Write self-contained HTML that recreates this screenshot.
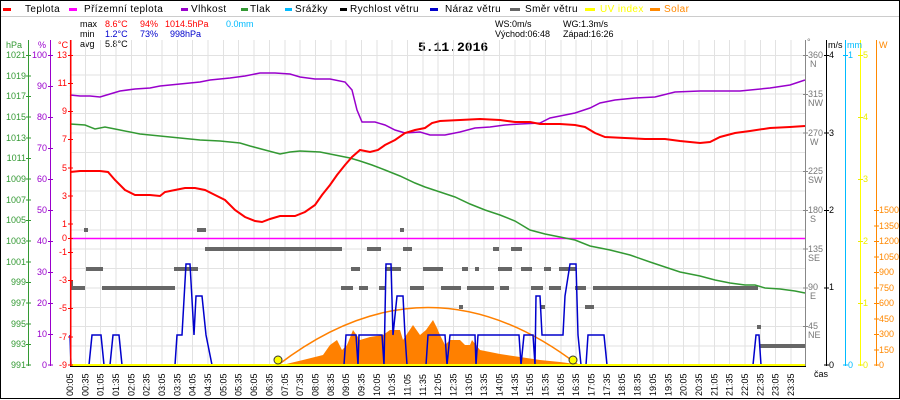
<!DOCTYPE html>
<html><head><meta charset="utf-8"><style>
html,body{margin:0;padding:0;background:#fff}
svg{display:block}
text{font-family:"Liberation Sans",sans-serif}
.m{font-family:"Liberation Mono",monospace}
</style></head><body>
<svg width="900" height="400" viewBox="0 0 900 400" xmlns="http://www.w3.org/2000/svg">
<rect x="0.5" y="0.5" width="899" height="398" fill="#fff" stroke="#000"/>
<line x1="1" y1="16.5" x2="899" y2="16.5" stroke="#ccc"/>
<!-- legend -->
<g font-size="10" letter-spacing="0.4">
<rect x="3" y="8" width="8" height="3" fill="#f00"/><text x="25" y="12">Teplota</text>
<rect x="69" y="8" width="8" height="3" fill="#f0f"/><text x="84" y="12">Přízemní teplota</text>
<rect x="181" y="8" width="7" height="3" fill="#90c"/><text x="191" y="12">Vlhkost</text>
<rect x="241" y="8" width="7" height="3" fill="#393"/><text x="250" y="12">Tlak</text>
<rect x="285" y="8" width="7" height="3" fill="#0bf"/><text x="295" y="12">Srážky</text>
<rect x="340" y="8" width="7" height="3" fill="#000"/><text x="350" y="12">Rychlost větru</text>
<rect x="430" y="8" width="8" height="3" fill="#00c"/><text x="445" y="12">Náraz větru</text>
<rect x="510" y="8" width="10" height="3" fill="#666"/><text x="525" y="12">Směr větru</text>
<rect x="585" y="8" width="10" height="3" fill="#ff0"/><text x="600" y="12" fill="#ff0">UV index</text>
<rect x="650" y="8" width="10" height="3" fill="#f80"/><text x="664" y="12" fill="#f80">Solar</text>
</g>
<!-- stats -->
<g class="m" font-size="9">
<text x="80" y="27">max</text><text x="105" y="27" fill="#f00">8.6°C</text><text x="140" y="27" fill="#f00">94%</text><text x="165" y="27" fill="#f00">1014.5hPa</text><text x="226" y="27" fill="#0bf">0.0mm</text>
<text x="80" y="37">min</text><text x="105" y="37" fill="#00c">1.2°C</text><text x="140" y="37" fill="#00c">73%</text><text x="170" y="37" fill="#00c">998hPa</text>
<text x="80" y="47">avg</text><text x="105" y="47">5.8°C</text>
<text x="495" y="27">WS:0m/s</text><text x="563" y="27">WG:1.3m/s</text>
<text x="495" y="37">Východ:06:48</text><text x="563" y="37">Západ:16:26</text>
</g>
<text x="418" y="51" font-size="13" font-weight="bold" class="m">5.11.2016</text>
<!-- grid -->
<g stroke="#e2e2e2" stroke-width="1" shape-rendering="crispEdges">
<path d="M70 40V365M85.3 40V365M100.7 40V365M116 40V365M131.4 40V365M146.7 40V365M162 40V365M177.4 40V365M192.7 40V365M208.1 40V365M223.4 40V365M238.7 40V365M254.1 40V365M269.4 40V365M284.8 40V365M300.1 40V365M315.4 40V365M330.8 40V365M346.1 40V365M361.5 40V365M376.8 40V365M392.1 40V365M407.5 40V365M422.8 40V365M438.2 40V365M453.5 40V365M468.8 40V365M484.2 40V365M499.5 40V365M514.9 40V365M530.2 40V365M545.5 40V365M560.9 40V365M576.2 40V365M591.6 40V365M606.9 40V365M622.2 40V365M637.6 40V365M652.9 40V365M668.3 40V365M683.6 40V365M698.9 40V365M714.3 40V365M729.6 40V365M745 40V365M760.3 40V365M775.6 40V365M791 40V365"/>
<path d="M70 55.5H806M70 74.9H806M70 94.2H806M70 113.6H806M70 133H806M70 152.3H806M70 171.7H806M70 191.1H806M70 210.5H806M70 229.8H806M70 249.2H806M70 268.6H806M70 288H806M70 307.4H806M70 326.7H806M70 346.1H806"/>
</g>
<!-- zero temp line -->
<line x1="70" y1="238.5" x2="806" y2="238.5" stroke="#f0f" stroke-width="1.5"/>
<!-- solar area -->
<polygon fill="#ff8000" points="282,365 303,360 323,355 330,345 337,340 342,350 347,345 353,330 360,340 370,337 383,335 390,330 400,330 403,340 413,325 420,335 426,330 433,320 437,328 440,335 445,345 450,340 460,340 465,345 470,345 472,340 476,345 480,350 490,352 500,354 520,357 540,360 560,362 575,364 580,365"/>
<!-- sun curve -->
<path fill="none" stroke="#ff8000" stroke-width="1.5" d="M278 365 Q428 250 578 365"/>
<!-- direction -->
<g fill="#666">
<rect x="84" y="228" width="4" height="4"/><rect x="197" y="228" width="9" height="4"/><rect x="400" y="228" width="4" height="4"/>
<rect x="205" y="247" width="137" height="4"/><rect x="367" y="247" width="14" height="4"/><rect x="403" y="247" width="9" height="4"/><rect x="493" y="247" width="6" height="4"/><rect x="511" y="247" width="11" height="4"/>
<rect x="86" y="267" width="17" height="4"/><rect x="174" y="267" width="24" height="4"/><rect x="351" y="267" width="9" height="4"/><rect x="385" y="267" width="16" height="4"/><rect x="423" y="267" width="20" height="4"/><rect x="462" y="267" width="6" height="4"/><rect x="475" y="267" width="4" height="4"/><rect x="498" y="267" width="14" height="4"/><rect x="521" y="267" width="11" height="4"/><rect x="544" y="267" width="7" height="4"/><rect x="559" y="267" width="17" height="4"/>
<rect x="70" y="286" width="15" height="4"/><rect x="102" y="286" width="73" height="4"/><rect x="341" y="286" width="12" height="4"/><rect x="359" y="286" width="9" height="4"/><rect x="379" y="286" width="6" height="4"/><rect x="410" y="286" width="14" height="4"/><rect x="441" y="286" width="20" height="4"/><rect x="467" y="286" width="27" height="4"/><rect x="500" y="286" width="9" height="4"/><rect x="531" y="286" width="12" height="4"/><rect x="549" y="286" width="12" height="4"/><rect x="575" y="286" width="11" height="4"/><rect x="593" y="286" width="165" height="4"/>
<rect x="70" y="280" width="3" height="6"/>
<rect x="459" y="305" width="4" height="4"/><rect x="541" y="305" width="4" height="4"/><rect x="585" y="305" width="9" height="4"/>
<rect x="757" y="325" width="4" height="4"/><rect x="760" y="344" width="46" height="4"/>
</g>
<!-- gust -->
<polyline fill="none" stroke="#00c" stroke-width="1.5" points="70,335 71,365 89,365 92,335 101,335 104,365 110,365 113,335 119,335 122,365 175,365 177,335 182,335 186,264 190,264 194,335 196,296 202,296 206,335 212,365 344,365 346,335 356,335 358,365 359,335 382,335 384,365 386,264 391,264 393,335 397,296 403,296 405,335 407,365 426,365 428,335 445,335 447,365 450,335 475,335 476,365 478,335 519,335 521,365 524,335 533,335 535,365 536,296 540,296 542,335 563,335 565,296 570,264 576,264 578,335 581,365 586,365 588,335 604,335 607,365 753,365 756,335 759,335 761,365 806,365"/>
<!-- pressure -->
<polyline fill="none" stroke="#393" stroke-width="1.5" points="70,124 85,125 95,129 105,127 120,130 140,134 160,136 180,138 200,140 220,141 240,143 250,146 265,150 280,154 290,152 300,151 320,152 335,155 350,158 360,161 372,165 385,170 400,176 415,183 425,187 440,192 455,197 470,204 485,210 500,215 515,221 530,230 545,234 560,237 575,240 590,246 610,250 630,255 650,262 665,267 680,272 700,276 715,280 730,283 745,285 755,285 765,288 780,289 795,291 805,293"/>
<!-- humidity -->
<polyline fill="none" stroke="#90c" stroke-width="1.5" points="70,95 80,96 90,96 100,97 110,94 120,91 135,89 150,88 160,86 170,85 180,84 190,83 200,82 210,80 220,79 230,78 245,76 260,73 275,73 290,74 300,77 315,79 330,79 345,82 352,90 357,110 362,122 375,122 385,125 395,130 405,133 420,132 430,135 445,135 460,132 475,128 490,127 505,125 520,124 540,123 550,118 560,116 575,113 590,108 600,103 615,100 635,98 655,97 675,92 700,91 740,91 770,88 790,85 805,80"/>
<!-- temperature -->
<polyline fill="none" stroke="#f00" stroke-width="2" points="70,172 80,171 100,171 108,172 115,180 125,190 135,195 150,195 160,196 165,192 175,190 185,188 195,188 205,190 215,195 225,200 235,210 245,217 255,221 262,222 270,219 280,216 295,216 305,212 315,205 322,195 330,185 337,175 345,165 352,157 360,150 370,152 378,150 385,145 395,140 405,133 415,130 425,128 432,123 440,121 460,120 480,119 500,120 515,122 530,122 540,124 560,124 575,125 585,127 595,133 605,137 625,138 645,139 665,139 680,141 700,143 710,142 720,137 735,133 750,131 770,128 790,127 805,126"/>
<!-- baseline -->
<line x1="70" y1="366.5" x2="806" y2="366.5" stroke="#000"/>
<line x1="70" y1="365" x2="806" y2="365" stroke="#ff0" stroke-width="2"/>
<circle cx="278" cy="360" r="4" fill="#ff0" stroke="#333"/>
<circle cx="573" cy="360" r="4" fill="#ff0" stroke="#333"/>
<!-- axes -->
<g shape-rendering="crispEdges">
<line x1="28.5" y1="40" x2="28.5" y2="366" stroke="#393"/>
<line x1="50.5" y1="40" x2="50.5" y2="366" stroke="#90c"/>
<line x1="70.5" y1="40" x2="70.5" y2="366" stroke="#f00" stroke-width="1.5"/>
<line x1="805.5" y1="40" x2="805.5" y2="366" stroke="#888"/>
<line x1="826.5" y1="40" x2="826.5" y2="366" stroke="#000"/>
<line x1="845.5" y1="40" x2="845.5" y2="366" stroke="#0bf"/>
<line x1="860.5" y1="40" x2="860.5" y2="366" stroke="#ff0"/>
<line x1="876.5" y1="40" x2="876.5" y2="366" stroke="#f80"/>
<path stroke="#393" d="M26 55.5h5M26 76h5M26 96.5h5M26 117h5M26 138h5M26 158.5h5M26 179h5M26 200h5M26 220.5h5M26 241h5M26 262h5M26 282.5h5M26 303h5M26 324h5M26 344.5h5M26 365h5"/>
<path stroke="#90c" d="M48 55.5h5M48 86.5h5M48 117.5h5M48 148.5h5M48 179.5h5M48 210.5h5M48 241.5h5M48 272.5h5M48 303.5h5M48 334.5h5M48 365h5"/>
<path stroke="#f00" d="M68 55.5h5M68 83.5h5M68 111.5h5M68 139.5h5M68 168h5M68 196h5M68 224h5M68 238.5h5M68 252.5h5M68 280.5h5M68 308.5h5M68 337h5M68 365h5"/>
<path stroke="#888" d="M803 55.5h5M803 94.5h5M803 133h5M803 171.5h5M803 210.5h5M803 249h5M803 288h5M803 326.5h5"/>
<path stroke="#000" d="M824 55.5h5M824 133h5M824 210.5h5M824 288h5M824 365h5"/>
<path stroke="#0bf" d="M843 55.5h5M843 365h5"/>
<path stroke="#ee0" d="M858 55.5h5M858 117.5h5M858 179.5h5M858 241.5h5M858 303.5h5M858 365h5"/>
<path stroke="#f80" d="M874 210.5h5M874 226h5M874 241.5h5M874 257h5M874 272.5h5M874 288h5M874 303.5h5M874 319h5M874 334.5h5M874 350h5M874 365h5"/>
</g>
<g class="m" font-size="9">
<text x="6" y="48" fill="#393">hPa</text><text x="38" y="48" fill="#90c">%</text><text x="58" y="48" fill="#f00">°C</text>
<g fill="#393" text-anchor="end">
<text x="26" y="58">1021</text><text x="26" y="79">1019</text><text x="26" y="99">1017</text><text x="26" y="120">1015</text><text x="26" y="141">1013</text><text x="26" y="161">1011</text><text x="26" y="182">1009</text><text x="26" y="203">1007</text><text x="26" y="223">1005</text><text x="26" y="244">1003</text><text x="26" y="265">1001</text><text x="26" y="285">999</text><text x="26" y="306">997</text><text x="26" y="327">995</text><text x="26" y="347">993</text><text x="26" y="368">991</text>
</g>
<g fill="#90c" text-anchor="end">
<text x="47" y="58">100</text><text x="47" y="89">90</text><text x="47" y="120">80</text><text x="47" y="151">70</text><text x="47" y="182">60</text><text x="47" y="213">50</text><text x="47" y="244">40</text><text x="47" y="275">30</text><text x="47" y="306">20</text><text x="47" y="337">10</text><text x="47" y="368">0</text>
</g>
<g fill="#f00" text-anchor="end">
<text x="67" y="58">13</text><text x="67" y="86">11</text><text x="67" y="114">9</text><text x="67" y="142">7</text><text x="67" y="171">5</text><text x="67" y="199">3</text><text x="67" y="227">1</text><text x="67" y="241">0</text><text x="67" y="255">-1</text><text x="67" y="283">-3</text><text x="67" y="311">-5</text><text x="67" y="340">-7</text><text x="67" y="368">-9</text>
</g>
<g fill="#777">
<text x="807" y="45">°</text>
<text x="808" y="58">360</text><text x="810" y="67">N</text>
<text x="808" y="97">315</text><text x="808" y="106">NW</text>
<text x="808" y="136">270</text><text x="810" y="145">W</text>
<text x="808" y="174">225</text><text x="808" y="183">SW</text>
<text x="808" y="213">180</text><text x="810" y="222">S</text>
<text x="808" y="252">135</text><text x="808" y="261">SE</text>
<text x="808" y="290">90</text><text x="810" y="299">E</text>
<text x="808" y="329">45</text><text x="808" y="338">NE</text>
</g>
<text x="828" y="48">m/s</text>
<text x="829" y="58">4</text><text x="829" y="136">3</text><text x="829" y="213">2</text><text x="829" y="290">1</text><text x="829" y="368">0</text>
<text x="847" y="48" fill="#0bf">mm</text>
<text x="848" y="58" fill="#0bf">1</text><text x="848" y="368" fill="#0bf">0</text>
<g fill="#ee0"><text x="863" y="58">5</text><text x="863" y="120">4</text><text x="863" y="182">3</text><text x="863" y="244">2</text><text x="863" y="306">1</text><text x="863" y="368">0</text></g>
<text x="879" y="48" fill="#f80">W</text>
<g fill="#f80"><text x="879" y="213">1500</text><text x="879" y="229">1350</text><text x="879" y="244">1200</text><text x="879" y="260">1050</text><text x="879" y="275">900</text><text x="879" y="291">750</text><text x="879" y="306">600</text><text x="879" y="322">450</text><text x="879" y="337">300</text><text x="879" y="353">150</text><text x="879" y="368">0</text></g>
<text x="814" y="377">čas</text>
</g>
<!-- x labels -->
<g class="m" font-size="9">
<text transform="translate(73,396) rotate(-90)">00:05</text><text transform="translate(88.3,396) rotate(-90)">00:35</text><text transform="translate(103.7,396) rotate(-90)">01:05</text><text transform="translate(119,396) rotate(-90)">01:35</text><text transform="translate(134.4,396) rotate(-90)">02:05</text><text transform="translate(149.7,396) rotate(-90)">02:35</text><text transform="translate(165,396) rotate(-90)">03:05</text><text transform="translate(180.4,396) rotate(-90)">03:35</text><text transform="translate(195.7,396) rotate(-90)">04:05</text><text transform="translate(211.1,396) rotate(-90)">04:35</text><text transform="translate(226.4,396) rotate(-90)">05:05</text><text transform="translate(241.7,396) rotate(-90)">05:35</text><text transform="translate(257.1,396) rotate(-90)">06:05</text><text transform="translate(272.4,396) rotate(-90)">06:35</text><text transform="translate(287.8,396) rotate(-90)">07:05</text><text transform="translate(303.1,396) rotate(-90)">07:35</text><text transform="translate(318.4,396) rotate(-90)">08:05</text><text transform="translate(333.8,396) rotate(-90)">08:35</text><text transform="translate(349.1,396) rotate(-90)">09:05</text><text transform="translate(364.5,396) rotate(-90)">09:35</text><text transform="translate(379.8,396) rotate(-90)">10:05</text><text transform="translate(395.1,396) rotate(-90)">10:35</text><text transform="translate(410.5,396) rotate(-90)">11:05</text><text transform="translate(425.8,396) rotate(-90)">11:35</text><text transform="translate(441.2,396) rotate(-90)">12:05</text><text transform="translate(456.5,396) rotate(-90)">12:35</text><text transform="translate(471.8,396) rotate(-90)">13:05</text><text transform="translate(487.2,396) rotate(-90)">13:35</text><text transform="translate(502.5,396) rotate(-90)">14:05</text><text transform="translate(517.9,396) rotate(-90)">14:35</text><text transform="translate(533.2,396) rotate(-90)">15:05</text><text transform="translate(548.5,396) rotate(-90)">15:35</text><text transform="translate(563.9,396) rotate(-90)">16:05</text><text transform="translate(579.2,396) rotate(-90)">16:35</text><text transform="translate(594.6,396) rotate(-90)">17:05</text><text transform="translate(609.9,396) rotate(-90)">17:35</text><text transform="translate(625.2,396) rotate(-90)">18:05</text><text transform="translate(640.6,396) rotate(-90)">18:35</text><text transform="translate(655.9,396) rotate(-90)">19:05</text><text transform="translate(671.3,396) rotate(-90)">19:35</text><text transform="translate(686.6,396) rotate(-90)">20:05</text><text transform="translate(701.9,396) rotate(-90)">20:35</text><text transform="translate(717.3,396) rotate(-90)">21:05</text><text transform="translate(732.6,396) rotate(-90)">21:35</text><text transform="translate(748,396) rotate(-90)">22:05</text><text transform="translate(763.3,396) rotate(-90)">22:35</text><text transform="translate(778.6,396) rotate(-90)">23:05</text><text transform="translate(794,396) rotate(-90)">23:35</text>
</g>
</svg>
</body></html>
